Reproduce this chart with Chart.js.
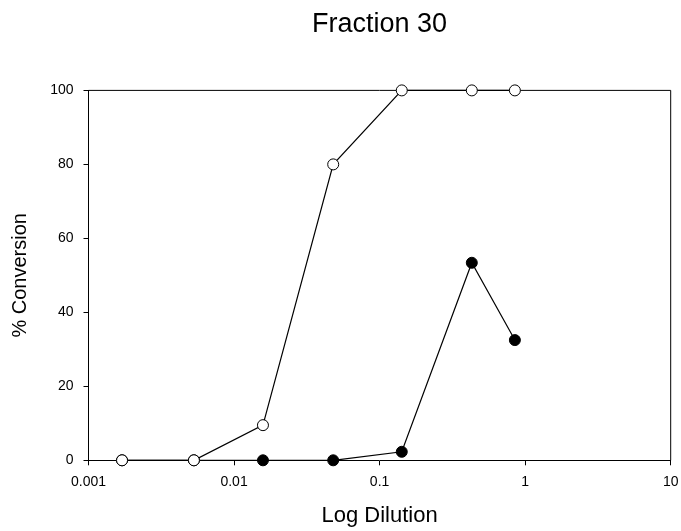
<!DOCTYPE html>
<html>
<head>
<meta charset="utf-8">
<title>Fraction 30</title>
<script src="https://cdn.jsdelivr.net/npm/chart.js@4.4.1/dist/chart.umd.min.js"></script>
<style>
    html, body { margin: 0; padding: 0; background: #fff; }
    #wrap { width: 681px; height: 531px; }
</style>
</head>
<body>
<div id="wrap"><canvas id="conversionChart"></canvas></div>
<script>
// Dilution series (log scale) and % conversion readings
const dilutions = [0.0017, 0.0053, 0.0158, 0.048, 0.142, 0.43, 0.85];
const openSeries = [0, 0, 9.5, 80, 100, 100, 100];
const filledSeries = [0, 0, 0, 0, 2.3, 53.4, 32.5];
const xTicks = [0.001, 0.01, 0.1, 1, 10];
const xTickLabels = ['0.001', '0.01', '0.1', '1', '10'];
const yTicks = [0, 20, 40, 60, 80, 100];

const FONT = '"Liberation Sans", Arial, sans-serif';

function toPoints(values) {
    return dilutions.map((d, i) => ({ x: d, y: values[i] }));
}

// closes the frame on the top and right edges
const frameBox = {
    id: 'frameBox',
    beforeDatasetsDraw(chart) {
        const { ctx, chartArea: a } = chart;
        ctx.save();
        ctx.strokeStyle = '#000';
        ctx.lineWidth = 1;
        ctx.beginPath();
        ctx.moveTo(a.left, a.top);
        ctx.lineTo(a.right, a.top);
        ctx.lineTo(a.right, a.bottom);
        ctx.stroke();
        ctx.restore();
    }
};

new Chart(document.getElementById('conversionChart'), {
    type: 'line',
    data: {
        datasets: [{
            label: 'open',
            data: toPoints(openSeries),
            borderColor: '#000',
            borderWidth: 1.2,
            backgroundColor: '#fff',
            pointBackgroundColor: '#fff',
            pointBorderColor: '#000',
            pointBorderWidth: 1,
            pointRadius: 5.5,
            tension: 0,
            clip: false
        }, {
            label: 'filled',
            data: toPoints(filledSeries),
            borderColor: '#000',
            borderWidth: 1.2,
            backgroundColor: '#000',
            pointBackgroundColor: '#000',
            pointBorderColor: '#000',
            pointBorderWidth: 1,
            pointRadius: 5.5,
            tension: 0,
            clip: false
        }]
    },
    options: {
        responsive: true,
        maintainAspectRatio: false,
        animation: false,
        layout: {
            padding: 0
        },
        plugins: {
            legend: { display: false },
            tooltip: { enabled: false },
            title: {
                display: true,
                text: 'Fraction 30',
                fullSize: false,
                color: '#000',
                font: { family: FONT, size: 27, weight: 'normal' },
                padding: { top: 8, bottom: 50 }
            }
        },
        scales: {
            x: {
                type: 'logarithmic',
                min: 0.001,
                max: 10,
                afterBuildTicks: scale => {
                    scale.ticks = xTicks.map(v => ({ value: v }));
                },
                afterFit: scale => {
                    scale.height = 70.7;
                    scale.paddingRight = 10.3;
                },
                ticks: {
                    color: '#000',
                    font: { family: FONT, size: 14 },
                    padding: 8,
                    maxRotation: 0,
                    autoSkip: false,
                    callback: (v) => xTickLabels[xTicks.indexOf(v)]
                },
                grid: {
                    display: true,
                    drawOnChartArea: false,
                    drawTicks: true,
                    tickLength: 5,
                    color: '#000'
                },
                border: { display: true, color: '#000', width: 1 },
                title: {
                    display: true,
                    text: 'Log Dilution',
                    color: '#000',
                    font: { family: FONT, size: 22 },
                    padding: { top: 2, bottom: 2 }
                }
            },
            y: {
                min: 0,
                max: 100,
                afterBuildTicks: scale => {
                    scale.ticks = yTicks.map(v => ({ value: v }));
                },
                afterFit: scale => { scale.width = 88.5; },
                ticks: {
                    color: '#000',
                    font: { family: FONT, size: 14 },
                    padding: 10
                },
                grid: {
                    display: true,
                    drawOnChartArea: false,
                    drawTicks: true,
                    tickLength: 5,
                    color: '#000'
                },
                border: { display: true, color: '#000', width: 1 },
                title: {
                    display: true,
                    text: '% Conversion',
                    color: '#000',
                    font: { family: FONT, size: 20 },
                    padding: { top: 8, bottom: 0 }
                }
            }
        }
    },
    plugins: [frameBox]
});
</script>
</body>
</html>
